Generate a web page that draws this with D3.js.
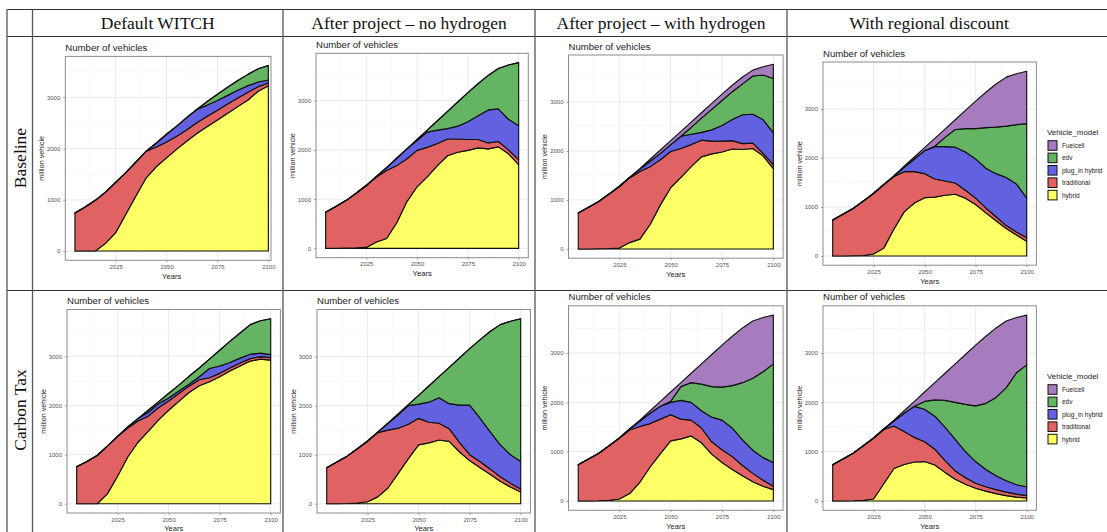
<!DOCTYPE html>
<html>
<head>
<meta charset="utf-8">
<script src="https://cdn.jsdelivr.net/npm/d3@7"></script>
<style>
  html, body { margin: 0; padding: 0; background: #fff; }
  svg { display: block; }
</style>
</head>
<body>
<svg id="chart" width="1107" height="532"></svg>
<script>
// ---------- data ----------
const years = [2005, 2010, 2015, 2020, 2025, 2030, 2035, 2040, 2045, 2050,
               2055, 2060, 2065, 2070, 2075, 2080, 2085, 2090, 2095, 2100];

const columnTitles = ["Default WITCH", "After project \u2013 no hydrogen",
                      "After project \u2013 with hydrogen", "With regional discount"];
const rowTitles = ["Baseline", "Carbon Tax"];

const seriesKeys   = ["hybrid", "traditional", "plugIn", "edv", "fuelcell"];
const seriesLabels = ["hybrid", "traditional", "plug_in hybrid", "edv", "Fuelcell"];
const seriesColors = ["#ffff66", "#e06262", "#6262e0", "#64b464", "#a77cbf"];

const yTicks = [0, 1000, 2000, 3000];
const xTicks = [2025, 2050, 2075, 2100];

// Baseline, default WITCH (million vehicles)
const baseDefault = {
  hybrid:      [0, 0, 0, 150, 360, 720, 1080, 1430, 1650, 1820, 1990, 2150, 2300, 2430, 2560, 2690, 2820, 2950, 3120, 3230],
  traditional: [745, 860, 990, 1000, 980, 810, 660, 520, 380, 310, 250, 220, 210, 200, 190, 180, 170, 150, 90, 50],
  plugIn:      [0, 0, 0, 0, 0, 0, 0, 0, 80, 150, 200, 240, 260, 220, 190, 170, 150, 130, 90, 60],
  edv:         [0, 0, 0, 0, 0, 0, 0, 0, 0, 0, 0, 0, 0, 70, 120, 160, 190, 220, 260, 280],
  fuelcell:    [0, 0, 0, 0, 0, 0, 0, 0, 0, 0, 0, 0, 0, 0, 0, 0, 0, 0, 0, 0]
};
// Baseline, after project without hydrogen
const baseNoH2 = {
  hybrid:      [0, 0, 5, 10, 20, 130, 200, 520, 950, 1250, 1450, 1680, 1880, 1950, 1990, 2040, 2020, 2060, 1920, 1700],
  traditional: [733, 850, 965, 1110, 1250, 1320, 1380, 1160, 870, 740, 600, 450, 340, 270, 220, 170, 120, 110, 80, 100],
  plugIn:      [0, 0, 0, 0, 10, 10, 60, 150, 200, 200, 310, 270, 210, 260, 360, 480, 670, 660, 620, 690],
  edv:         [0, 0, 0, 0, 0, 0, 0, 0, 0, 20, 40, 190, 350, 490, 590, 650, 700, 820, 1100, 1280],
  fuelcell:    [0, 0, 0, 0, 0, 0, 0, 0, 0, 0, 0, 0, 0, 0, 0, 0, 0, 0, 0, 0]
};
// Baseline, after project with hydrogen
const baseH2 = {
  hybrid:      [0, 0, 5, 10, 20, 130, 200, 500, 900, 1250, 1460, 1680, 1880, 1940, 1980, 2040, 2030, 2050, 1900, 1640],
  traditional: [733, 850, 965, 1110, 1250, 1320, 1380, 1180, 920, 740, 590, 450, 340, 260, 220, 170, 120, 110, 50, 80],
  plugIn:      [0, 0, 0, 0, 10, 10, 50, 110, 130, 140, 250, 210, 160, 230, 320, 430, 590, 590, 690, 650],
  edv:         [0, 0, 0, 0, 0, 0, 0, 0, 0, 0, 0, 140, 290, 420, 510, 570, 630, 780, 910, 1110],
  fuelcell:    [0, 0, 0, 0, 0, 0, 10, 40, 70, 80, 100, 110, 110, 120, 130, 130, 140, 120, 170, 290]
};
// Baseline, regional discount
const baseRegional = {
  hybrid:      [0, 0, 5, 10, 40, 160, 550, 900, 1080, 1190, 1200, 1240, 1260, 1180, 1050, 880, 720, 560, 430, 300],
  traditional: [733, 850, 965, 1110, 1230, 1290, 1070, 820, 640, 490, 370, 290, 230, 160, 130, 100, 80, 60, 60, 70],
  plugIn:      [0, 0, 0, 0, 10, 10, 10, 90, 260, 470, 660, 700, 730, 780, 800, 810, 880, 980, 980, 810],
  edv:         [0, 0, 0, 0, 0, 0, 0, 0, 0, 0, 10, 190, 360, 480, 620, 830, 950, 1050, 1210, 1520],
  fuelcell:    [0, 0, 0, 0, 0, 0, 10, 20, 40, 60, 160, 170, 200, 370, 560, 720, 880, 1000, 1040, 1070]
};
// Carbon tax, default WITCH
const taxDefault = {
  hybrid:      [0, 0, 0, 200, 560, 950, 1250, 1470, 1700, 1900, 2080, 2260, 2400, 2480, 2580, 2700, 2800, 2900, 2940, 2920],
  traditional: [750, 860, 980, 970, 810, 590, 430, 310, 250, 190, 160, 130, 120, 80, 70, 60, 60, 50, 50, 50],
  plugIn:      [0, 0, 0, 0, 0, 20, 50, 80, 80, 60, 50, 40, 60, 190, 150, 110, 100, 90, 70, 60],
  edv:         [0, 0, 0, 0, 0, 0, 0, 40, 40, 90, 120, 160, 180, 190, 320, 430, 510, 600, 660, 730],
  fuelcell:    [0, 0, 0, 0, 0, 0, 0, 0, 0, 0, 0, 0, 0, 0, 0, 0, 0, 0, 0, 0]
};
// Carbon tax, after project without hydrogen
const taxNoH2 = {
  hybrid:      [0, 0, 5, 15, 40, 140, 320, 620, 920, 1200, 1240, 1300, 1270, 1060, 880, 740, 600, 460, 340, 240],
  traditional: [733, 850, 965, 1105, 1230, 1310, 1180, 920, 700, 540, 420, 340, 260, 190, 120, 120, 110, 90, 80, 60],
  plugIn:      [0, 0, 0, 0, 10, 10, 140, 270, 380, 290, 410, 520, 510, 760, 1010, 890, 760, 650, 580, 560],
  edv:         [0, 0, 0, 0, 0, 0, 0, 20, 20, 180, 330, 430, 740, 960, 1150, 1590, 2040, 2450, 2720, 2910],
  fuelcell:    [0, 0, 0, 0, 0, 0, 0, 0, 0, 0, 0, 0, 0, 0, 0, 0, 0, 0, 0, 0]
};
// Carbon tax, after project with hydrogen
const taxH2 = {
  hybrid:      [0, 0, 5, 15, 40, 150, 380, 690, 960, 1220, 1260, 1320, 1180, 950, 780, 640, 510, 390, 300, 230],
  traditional: [733, 850, 965, 1105, 1230, 1290, 1130, 880, 700, 530, 400, 320, 300, 250, 260, 260, 210, 170, 120, 70],
  plugIn:      [0, 0, 0, 0, 10, 20, 110, 210, 260, 250, 380, 360, 350, 500, 600, 580, 520, 470, 460, 480],
  edv:         [0, 0, 0, 0, 0, 0, 0, 0, 0, 20, 280, 400, 540, 620, 670, 860, 1160, 1460, 1740, 2000],
  fuelcell:    [0, 0, 0, 0, 0, 0, 20, 50, 100, 190, 80, 190, 410, 650, 850, 1000, 1110, 1160, 1100, 990]
};
// Carbon tax, regional discount
const taxRegional = {
  hybrid:      [0, 0, 5, 15, 40, 350, 660, 740, 790, 800, 730, 580, 440, 340, 260, 200, 150, 110, 80, 60],
  traditional: [733, 850, 965, 1105, 1230, 1100, 860, 670, 500, 400, 320, 240, 170, 130, 100, 90, 80, 70, 60, 50],
  plugIn:      [0, 0, 0, 0, 10, 10, 100, 370, 630, 660, 670, 680, 640, 530, 440, 350, 280, 230, 190, 180],
  edv:         [0, 0, 0, 0, 0, 0, 0, 0, 0, 160, 330, 540, 750, 960, 1130, 1340, 1590, 1890, 2270, 2470],
  fuelcell:    [0, 0, 0, 0, 0, 0, 20, 50, 100, 190, 350, 550, 780, 1010, 1230, 1360, 1410, 1350, 1120, 1010]
};

// ---------- layout ----------
const W = 1107, H = 532;
const gridX = [7, 32.5, 283, 535, 787];
const gridY = [9.5, 36.5, 290.5];
const headerCenters = [157.75, 409, 661, 929];
const rowCenters = [158, 410];

// plot box of each panel: [left, top, right, bottom]; clipRight trims the frame
const panels = [
  { data: baseDefault,  box: [65.3, 56.4, 278, 260.3], clipRight: 271 },
  { data: baseNoH2,     box: [316, 53.3, 528.3, 257.7] },
  { data: baseH2,       box: [568.5, 55, 783.1, 258.2] },
  { data: baseRegional, box: [823, 62, 1036.4, 265.2], legend: { x: 1048, y: 145.5 } },
  { data: taxDefault,   box: [67, 309.5, 280.4, 513] },
  { data: taxNoH2,      box: [317, 309.5, 530.4, 513] },
  { data: taxH2,        box: [568.5, 305.8, 783.1, 510.3] },
  { data: taxRegional,  box: [823, 305.8, 1036.4, 510.3], legend: { x: 1048, y: 389.5 } }
];

const svg = d3.select("#chart");
svg.append("rect").attr("width", W).attr("height", H).attr("fill", "#fff");

const SANS = "'Liberation Sans', Arial, sans-serif";
const SERIF = "'Liberation Serif', 'Times New Roman', serif";

// ---------- panels ----------
panels.forEach((p, pi) => {
  const [L, T, R, B] = p.box;
  const Rv = p.clipRight !== undefined ? p.clipRight : R;
  const rows = years.map((yr, i) => {
    const r = { year: yr };
    seriesKeys.forEach(k => { r[k] = p.data[k][i]; });
    return r;
  });
  const totals = rows.map(r => d3.sum(seriesKeys, k => r[k]));
  const ymax = d3.max(totals);

  const x = d3.scaleLinear().domain([2005 - 4.75, 2100 + 4.75]).range([L, R]);
  const y = d3.scaleLinear().domain([-0.05 * ymax, 1.05 * ymax]).range([B, T]);

  const g = svg.append("g").attr("class", "panel");
  const clipId = "clip" + pi;
  g.append("clipPath").attr("id", clipId)
    .append("rect").attr("x", L).attr("y", T).attr("width", Rv - L).attr("height", B - T);

  const inner = g.append("g").attr("clip-path", `url(#${clipId})`);

  // minor grid
  const xMinor = [2012.5, 2037.5, 2062.5, 2087.5];
  const yMinor = [500, 1500, 2500, 3500].filter(v => v < 1.05 * ymax);
  inner.selectAll("line.xm").data(xMinor).join("line")
    .attr("x1", d => x(d)).attr("x2", d => x(d)).attr("y1", T).attr("y2", B)
    .attr("stroke", "#f3f3f3").attr("stroke-width", 0.6);
  inner.selectAll("line.ym").data(yMinor).join("line")
    .attr("x1", L).attr("x2", Rv).attr("y1", d => y(d)).attr("y2", d => y(d))
    .attr("stroke", "#f3f3f3").attr("stroke-width", 0.6);
  // major grid
  inner.selectAll("line.xM").data(xTicks).join("line")
    .attr("x1", d => x(d)).attr("x2", d => x(d)).attr("y1", T).attr("y2", B)
    .attr("stroke", "#e8e8e8").attr("stroke-width", 0.9);
  inner.selectAll("line.yM").data(yTicks).join("line")
    .attr("x1", L).attr("x2", Rv).attr("y1", d => y(d)).attr("y2", d => y(d))
    .attr("stroke", "#e8e8e8").attr("stroke-width", 0.9);

  // stacked areas
  const stack = d3.stack().keys(seriesKeys);
  const layers = stack(rows);
  const area = d3.area()
    .x(d => x(d.data.year))
    .y0(d => y(d[0]))
    .y1(d => y(d[1]));
  inner.selectAll("path.layer").data(layers).join("path")
    .attr("class", "layer")
    .attr("d", area)
    .attr("fill", (d, i) => seriesColors[i])
    .attr("stroke", "#111")
    .attr("stroke-width", 1.15)
    .attr("stroke-linejoin", "round");

  // panel border
  g.append("rect").attr("x", L).attr("y", T).attr("width", Rv - L).attr("height", B - T)
    .attr("fill", "none").attr("stroke", "#8c8c8c").attr("stroke-width", 1);

  // axes
  const yAxis = d3.axisLeft(y).tickValues(yTicks).tickSize(2).tickPadding(3).tickFormat(d3.format("d"));
  const xAxis = d3.axisBottom(x).tickValues(xTicks).tickSize(2).tickPadding(2.5).tickFormat(d3.format("d"));
  const ya = g.append("g").attr("transform", `translate(${L},0)`).call(yAxis);
  const xa = g.append("g").attr("transform", `translate(0,${B})`).call(xAxis);
  [ya, xa].forEach(a => {
    a.select(".domain").remove();
    a.selectAll(".tick line").attr("stroke", "#8c8c8c").attr("stroke-width", 0.8);
    a.selectAll(".tick text").attr("fill", "#555").attr("font-family", SANS).attr("font-size", 6);
  });

  // titles
  g.append("text").attr("x", L).attr("y", T - 5.4)
    .attr("font-family", SANS).attr("font-size", 9.6).attr("fill", "#1a1a1a")
    .text("Number of vehicles");
  g.append("text").attr("x", (L + R) / 2).attr("y", B + 18.3).attr("text-anchor", "middle")
    .attr("font-family", SANS).attr("font-size", 7.6).attr("fill", "#222")
    .text("Years");
  g.append("text")
    .attr("transform", `translate(${L - 24},${(T + B) / 2}) rotate(-90)`)
    .attr("text-anchor", "middle").attr("dominant-baseline", "central")
    .attr("font-family", SANS).attr("font-size", 7.2).attr("fill", "#222")
    .text("million vehicle");

  // legend (top entry is the top layer)
  if (p.legend) {
    const lg = g.append("g");
    lg.append("text").attr("x", p.legend.x - 1).attr("y", p.legend.y - 11)
      .attr("font-family", SANS).attr("font-size", 7.9).attr("fill", "#222")
      .text("Vehicle_model");
    const order = d3.range(seriesKeys.length).reverse();
    order.forEach((si, j) => {
      const cy = p.legend.y + j * 12.4;
      lg.append("rect").attr("x", p.legend.x).attr("y", cy - 4.8)
        .attr("width", 9).attr("height", 9.6)
        .attr("fill", seriesColors[si]).attr("stroke", "#111").attr("stroke-width", 1);
      lg.append("text").attr("x", p.legend.x + 14).attr("y", cy)
        .attr("dominant-baseline", "central")
        .attr("font-family", SANS).attr("font-size", 6.5).attr("fill", "#222")
        .text(seriesLabels[si]);
    });
  }
});

// ---------- table frame ----------
const frame = svg.append("g");
gridY.forEach(yy => {
  frame.append("line").attr("x1", gridX[0]).attr("x2", W).attr("y1", yy).attr("y2", yy)
    .attr("stroke", "#333").attr("stroke-width", 1.1);
});
gridX.forEach(xx => {
  frame.append("line").attr("x1", xx).attr("x2", xx).attr("y1", gridY[0]).attr("y2", H)
    .attr("stroke", "#555").attr("stroke-width", 1.3);
});

// column headers
frame.selectAll("text.col").data(columnTitles).join("text")
  .attr("x", (d, i) => headerCenters[i]).attr("y", 28.5)
  .attr("text-anchor", "middle")
  .attr("font-family", SERIF).attr("font-size", 17.5).attr("fill", "#111")
  .text(d => d);

// row headers
frame.selectAll("text.row").data(rowTitles).join("text")
  .attr("transform", (d, i) => `translate(20,${rowCenters[i]}) rotate(-90)`)
  .attr("text-anchor", "middle").attr("dominant-baseline", "central")
  .attr("font-family", SERIF).attr("font-size", 17.5).attr("fill", "#111")
  .text(d => d);
</script>
</body>
</html>
